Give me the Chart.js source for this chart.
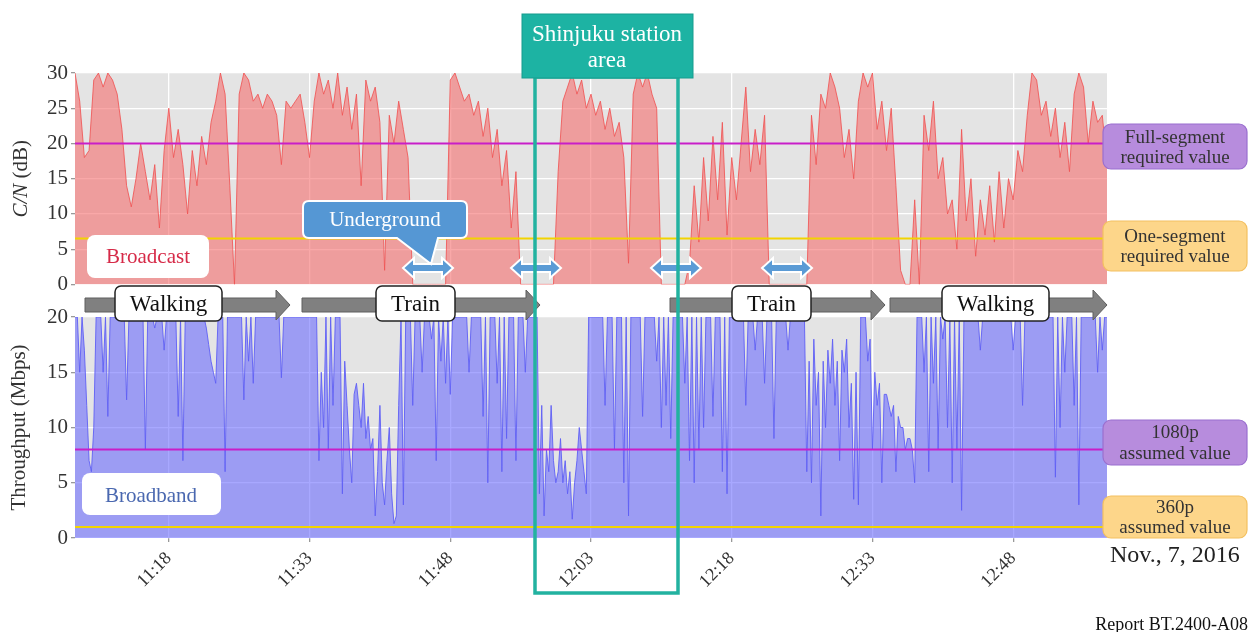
<!DOCTYPE html>
<html>
<head>
<meta charset="utf-8">
<script src="https://cdn.jsdelivr.net/npm/chart.js@4.4.1/dist/chart.umd.min.js"></script>
<style>
  html, body { margin: 0; padding: 0; background: #fff; }
  #wrap { position: relative; width: 1253px; height: 632px; overflow: hidden; background: #fff; }
  #topBox { position: absolute; left: 0; top: 0; width: 1253px; height: 300px; }
  #botBox { position: absolute; left: 0; top: 300px; width: 1253px; height: 332px; }
  #overlay { position: absolute; left: 0; top: 0; }
</style>
</head>
<body>
<div id="wrap">
  <div id="topBox"><canvas id="chart-cn"></canvas></div>
  <div id="botBox"><canvas id="chart-tp"></canvas></div>
  <svg id="overlay" width="1253" height="632"></svg>
</div>
<script>
// time axis in minutes after midnight (11:08 .. 12:58)
const tMin = 668;
const tMax = 778;
const cnStep = 0.5;   // one C/N sample every 30 s
const tpStep = 0.25;  // one throughput sample every 15 s
const tickMinutes = [678, 693, 708, 723, 738, 753, 768];

// Broadcast C/N (dB)
const cnDb = [
  30,26,18,19,29,30,28,30,29,27, 22,14,11,15,20,16,12,17,8,19,
  25,18,22,17,10,19,14,21,17,23, 26,30,27,14,0,27,30,29,26,27,
  25,27,26,24,17,26,25,26,27,23, 18,26,30,27,29,25,30,24,28,22,
  27,14,29,26,28,23,2,24,20,26, 22,18,0,0,0,0,0,0,0,0,
  29,30,28,26,27,24,26,21,25,18, 22,14,19,8,16,0,0,0,0,0,
  0,0,0,16,26,28,30,27,29,25, 27,24,26,22,25,21,23,18,3,27,
  30,28,30,27,25,0,0,0,0,0, 0,3,14,6,18,9,21,12,23,7,
  18,12,20,28,16,22,17,24,0,0, 0,0,0,0,0,0,0,24,17,27,
  25,30,28,25,18,22,15,26,30,28, 30,22,26,19,25,14,2,0,0,12,
  0,24,19,26,15,18,10,12,5,22, 9,15,4,12,7,14,6,16,8,15,
  12,19,16,24,30,29,24,26,21,25, 18,23,16,27,30,28,20,26,23,24,
  17
];

// Broadband throughput (Mbps)
const throughputMbps = [
  20,20, 15,20, 17,12, 7,6, 10,20, 20,20, 15,20, 11,20, 20,20, 20,20,
  20,20, 12.5,20, 20,20, 20,20, 20,20, 8,20, 20,20, 19,20, 20,20, 17,20,
  20,20, 20,20, 11,20, 7,20, 20,20, 20,20, 20,20, 20,20, 19,17.5, 16,15,
  14,20, 20,20, 6,20, 20,20, 20,20, 20,20, 12.5,20, 16,20, 14,20, 20,20,
  20,20, 20,20, 20,20, 20,20, 14.5,20, 20,20, 20,20, 20,20, 20,20, 20,20,
  20,20, 20,20, 7,15, 10,20, 8,20, 12,20, 20,20, 4,16, 12,8, 5,13,
  14,12, 10,14, 9,11, 8,9, 2,6, 12,5, 3,7, 10,4, 1.3,2, 12,20,
  3,20, 20,20, 12,20, 20,20, 15,20, 20,20, 18,20, 7,20, 16,20, 14,20,
  13,20, 20,20, 20,20, 20,20, 15,20, 20,20, 20,20, 11,20, 5,20, 20,20,
  14,20, 6,20, 9,20, 20,20, 7,20, 20,20, 15,20, 20,20, 20,20, 4,12,
  2,8, 6,12, 7,5, 6,9, 5,7, 4,6, 1.7,5, 7,10, 8,6, 4,20,
  20,20, 20,20, 20,20, 12,20, 20,20, 8,20, 20,20, 5,20, 2,20, 20,20,
  20,20, 11,20, 20,20, 20,20, 16,20, 10,20, 12,20, 9,20, 20,20, 20,20,
  14,20, 7,20, 5,20, 8,20, 10,20, 20,20, 11,20, 20,20, 6,20, 4,20,
  20,20, 20,20, 20,20, 12,20, 20,20, 17,20, 20,20, 14,20, 20,20, 9,20,
  20,20, 20,20, 17,20, 20,20, 20,20, 20,20, 6,16, 5,18, 12,15, 2,16,
  10,17, 14,18, 12,16, 7,17, 15,18, 10,14, 3.5,15, 3,20, 20,20, 16,18,
  8,15, 12,14, 5,13, 13,12, 11,12, 6,11, 10,10, 8,9, 9,8, 5,20,
  20,20, 15,20, 6,20, 14,20, 8,20, 18,20, 10,20, 5,20, 8,20, 2.5,20,
  20,20, 20,20, 20,20, 17,20, 20,20, 20,20, 20,20, 20,20, 20,20, 20,20,
  17,20, 20,20, 12,20, 20,20, 20,20, 20,20, 20,20, 20,20, 20,20, 5.5,20,
  10,20, 15,20, 20,20, 12,20, 3,20, 20,20, 20,20, 20,20, 15,20, 17,20,
  20
];

const fullSegmentRequired = 20;
const oneSegmentRequired = 6.5;
const assumed1080p = 8;
const assumed360p = 1;

const serif = '"Liberation Serif", "DejaVu Serif", serif';

function toPoints(values, step) {
  return values.map((v, i) => ({ x: tMin + i * step, y: v }));
}
function hLine(v) {
  return [{ x: tMin, y: v }, { x: tMax, y: v }];
}
function fmtTime(v) {
  const h = Math.floor(v / 60), m = v % 60;
  return h + ':' + (m < 10 ? '0' : '') + m;
}

const plotBg = {
  id: 'plotBg',
  beforeDraw(chart) {
    const a = chart.chartArea, ctx = chart.ctx;
    ctx.save();
    ctx.fillStyle = '#e4e4e4';
    ctx.fillRect(a.left, a.top, a.right - a.left, a.bottom - a.top);
    ctx.restore();
  }
};

// y title with mixed italic / upright parts
const yTitle = {
  id: 'yTitle',
  afterDraw(chart, args, opts) {
    const a = chart.chartArea, ctx = chart.ctx;
    ctx.save();
    ctx.translate(opts.x, (a.top + a.bottom) / 2);
    ctx.rotate(-Math.PI / 2);
    ctx.fillStyle = '#333';
    ctx.textBaseline = 'middle';
    let total = 0;
    opts.parts.forEach(p => { ctx.font = p[1] + ' 21px ' + serif; total += ctx.measureText(p[0]).width; });
    let x = -total / 2;
    opts.parts.forEach(p => {
      ctx.font = p[1] + ' 21px ' + serif;
      ctx.fillText(p[0], x, 0);
      x += ctx.measureText(p[0]).width;
    });
    ctx.restore();
  }
};

function xScale(showLabels, axisHeight) {
  return {
    type: 'linear',
    min: tMin,
    max: tMax,
    afterBuildTicks: s => { s.ticks = tickMinutes.map(v => ({ value: v })); },
    afterFit: s => { s.height = axisHeight; },
    grid: { color: '#ffffff', lineWidth: 1.3, drawTicks: showLabels, tickLength: 4, tickColor: '#999' },
    border: { display: false },
    ticks: {
      display: showLabels, autoSkip: false, maxRotation: 45, minRotation: 45, padding: 6,
      color: '#333', font: { family: serif, size: 18 }, callback: v => fmtTime(v)
    }
  };
}
function yScale(max) {
  return {
    min: 0,
    max: max,
    afterFit: s => { s.width = 75; },
    grid: { color: '#ffffff', lineWidth: 1.3, tickLength: 4, tickColor: '#999' },
    border: { display: false },
    ticks: { stepSize: 5, padding: 3, color: '#333', font: { family: serif, size: 21 } }
  };
}
function lineSet(data, color, order) {
  return { data: data, borderColor: color, borderWidth: 2, fill: false, pointRadius: 0, order: order };
}

new Chart(document.getElementById('chart-cn'), {
  type: 'line',
  data: {
    datasets: [
      lineSet(hLine(fullSegmentRequired), '#c81ec8', 0),
      lineSet(hLine(oneSegmentRequired), '#f2d400', 0),
      {
        label: 'Broadcast',
        data: toPoints(cnDb, cnStep),
        borderColor: 'rgba(240,85,85,0.85)',
        backgroundColor: 'rgba(245,110,110,0.6)',
        borderWidth: 1,
        fill: 'origin',
        pointRadius: 0,
        tension: 0,
        order: 1
      }
    ]
  },
  options: {
    responsive: true,
    maintainAspectRatio: false,
    animation: false,
    layout: { padding: { top: 73, right: 146, bottom: 6, left: 0 } },
    scales: { x: xScale(false, 0), y: yScale(30) },
    plugins: {
      legend: { display: false },
      tooltip: { enabled: false },
      yTitle: { x: 21, parts: [['C/N', 'italic'], [' (dB)', 'normal']] }
    }
  },
  plugins: [plotBg, yTitle]
});

new Chart(document.getElementById('chart-tp'), {
  type: 'line',
  data: {
    datasets: [
      lineSet(hLine(assumed1080p), '#c81ec8', 0),
      lineSet(hLine(assumed360p), '#f2d400', 0),
      {
        label: 'Broadband',
        data: toPoints(throughputMbps, tpStep),
        borderColor: 'rgba(95,95,245,0.9)',
        backgroundColor: 'rgba(97,97,255,0.55)',
        borderWidth: 1,
        fill: 'origin',
        pointRadius: 0,
        tension: 0,
        order: 1
      }
    ]
  },
  options: {
    responsive: true,
    maintainAspectRatio: false,
    animation: false,
    layout: { padding: { top: 17, right: 146, bottom: 0, left: 0 } },
    scales: { x: xScale(true, 94), y: yScale(20) },
    plugins: {
      legend: { display: false },
      tooltip: { enabled: false },
      yTitle: { x: 19, parts: [['Throughput (Mbps)', 'normal']] }
    }
  },
  plugins: [plotBg, yTitle]
});

// ---- annotations ----
const svg = document.getElementById('overlay');
const NS = 'http://www.w3.org/2000/svg';
function el(tag, attrs, text) {
  const e = document.createElementNS(NS, tag);
  for (const k in attrs) e.setAttribute(k, attrs[k]);
  if (text) e.textContent = text;
  svg.appendChild(e);
  return e;
}
function txt(x, y, s, size, color, anchor) {
  return el('text', { x: x, y: y, 'font-family': serif, 'font-size': size, fill: color, 'text-anchor': anchor || 'middle' }, s);
}
function blockArrow(x0, x1) {
  const hb = x1 - 14;
  el('polygon', {
    points: [x0, 298, hb, 298, hb, 290, x1, 305, hb, 320, hb, 312, x0, 312].join(' '),
    fill: '#808080', stroke: '#5e5e5e', 'stroke-width': 1
  });
}
function modeLabel(x, w, s) {
  el('rect', { x: x, y: 286, width: w, height: 35, rx: 6, fill: '#fff', stroke: '#222', 'stroke-width': 1.5 });
  txt(x + w / 2, 311, s, 23, '#111');
}
function dblArrow(cx, cy) {
  const p = [cx - 25, cy, cx - 14, cy - 10, cx - 14, cy - 4, cx + 14, cy - 4, cx + 14, cy - 10, cx + 25, cy,
             cx + 14, cy + 10, cx + 14, cy + 4, cx - 14, cy + 4, cx - 14, cy + 10];
  el('polygon', { points: p.join(' '), fill: '#5b9bd5', stroke: '#ffffff', 'stroke-width': 2 });
}
function sideBox(y, h, fill, stroke, l1, l2, b1, b2) {
  el('rect', { x: 1103, y: y, width: 144, height: h, rx: 8, fill: fill, stroke: stroke, 'stroke-width': 1.2 });
  txt(1175, b1, l1, 19, '#333');
  txt(1175, b2, l2, 19, '#333');
}

// movement arrows
blockArrow(85, 290);
blockArrow(302, 540);
blockArrow(670, 885);
blockArrow(890, 1107);
modeLabel(115, 107, 'Walking');
modeLabel(376, 79, 'Train');
modeLabel(732, 79, 'Train');
modeLabel(942, 107, 'Walking');

// underground markers
[428, 536, 676, 787].forEach(cx => dblArrow(cx, 268));

// underground callout
el('path', {
  d: 'M309 201 H461 Q467 201 467 207 V232 Q467 238 461 238 H438 L431 264 L397 238 H309 Q303 238 303 232 V207 Q303 201 309 201 Z',
  fill: '#5597d4', stroke: '#ffffff', 'stroke-width': 2
});
txt(385, 226, 'Underground', 21, '#ffffff');

// series tags
el('rect', { x: 87, y: 235, width: 122, height: 43, rx: 8, fill: '#ffffff' });
txt(148, 263, 'Broadcast', 21, '#d62a48');
el('rect', { x: 82, y: 473, width: 139, height: 42, rx: 8, fill: '#ffffff' });
txt(151, 502, 'Broadband', 21, '#4a68b0');

// Shinjuku station area
el('rect', { x: 535, y: 77, width: 143, height: 516, fill: 'none', stroke: '#22b2a0', 'stroke-width': 3.5 });
el('rect', { x: 522, y: 14, width: 171, height: 64, fill: '#1db3a3', stroke: '#169c8e', 'stroke-width': 1 });
txt(607, 41, 'Shinjuku station', 23, '#ffffff');
txt(607, 67, 'area', 23, '#ffffff');

// threshold labels
sideBox(124, 45, '#b78cdd', '#9a6fcf', 'Full-segment', 'required value', 143, 163);
sideBox(221, 50, '#fdd68a', '#f3c060', 'One-segment', 'required value', 242, 262);
sideBox(420, 45, '#b78cdd', '#9a6fcf', '1080p', 'assumed value', 438, 459);
sideBox(496, 42, '#fdd68a', '#f3c060', '360p', 'assumed value', 513, 533);

txt(1110, 562, 'Nov., 7, 2016', 24, '#222', 'start');
txt(1248, 630, 'Report BT.2400-A08', 18, '#111', 'end');
</script>
</body>
</html>
